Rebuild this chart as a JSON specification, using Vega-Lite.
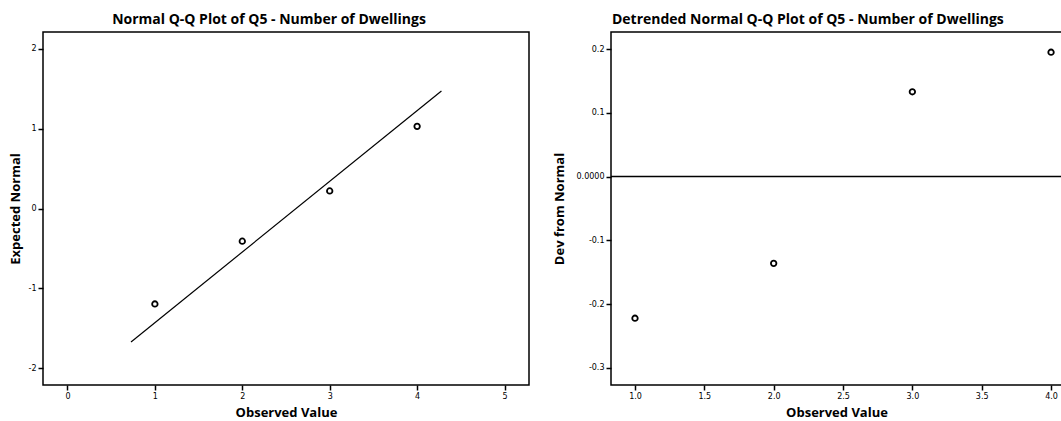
{
  "$schema": "https://vega.github.io/schema/vega-lite/v6.json",
  "background": "white",
  "padding": {"left": 8, "top": 12, "right": 0, "bottom": 0},
  "spacing": 22,
  "datasets": {
    "qq": [
      {"observed": 1, "expected": -1.197},
      {"observed": 2, "expected": -0.41},
      {"observed": 3, "expected": 0.22},
      {"observed": 4, "expected": 1.03}
    ],
    "fit": [
      {"observed": 0.727, "expected": -1.674},
      {"observed": 4.278, "expected": 1.473}
    ],
    "detrended": [
      {"observed": 1, "dev": -0.222},
      {"observed": 2, "dev": -0.136},
      {"observed": 3, "dev": 0.133},
      {"observed": 4, "dev": 0.195}
    ],
    "zero": [
      {"dev": 0}
    ]
  },
  "config": {
    "view": {"stroke": "black", "strokeWidth": 1.5},
    "axis": {
      "domain": false,
      "grid": false,
      "ticks": true,
      "tickColor": "black",
      "tickSize": 5,
      "tickWidth": 1.5,
      "labelFont": "DejaVu Sans",
      "labelFontSize": 8,
      "labelColor": "black",
      "labelPadding": 2,
      "titleFont": "Open Sans",
      "titleFontSize": 13,
      "titleFontWeight": "bold",
      "titleColor": "black"
    },
    "title": {
      "font": "Open Sans",
      "fontSize": 14,
      "fontWeight": "bold",
      "color": "black",
      "anchor": "middle",
      "frame": "bounds",
      "offset": 5
    }
  },
  "hconcat": [
    {
      "title": "Normal Q-Q Plot of Q5 - Number of Dwellings",
      "width": 486,
      "height": 353,
      "layer": [
        {
          "data": {"name": "fit"},
          "mark": {"type": "line", "color": "black", "strokeWidth": 1.2},
          "encoding": {
            "x": {"field": "observed", "type": "quantitative"},
            "y": {"field": "expected", "type": "quantitative"}
          }
        },
        {
          "data": {"name": "qq"},
          "mark": {"type": "point", "shape": "circle", "filled": false, "color": "black", "size": 30, "strokeWidth": 1.8, "opacity": 1},
          "encoding": {
            "x": {
              "field": "observed", "type": "quantitative",
              "scale": {"domain": [-0.28, 5.28], "nice": false, "zero": false},
              "axis": {"values": [0, 1, 2, 3, 4, 5], "labelExpr": "toString(datum.value)", "title": "Observed Value", "titlePadding": 6}
            },
            "y": {
              "field": "expected", "type": "quantitative",
              "scale": {"domain": [-2.213, 2.213], "nice": false, "zero": false},
              "axis": {"values": [-2, -1, 0, 1, 2], "labelExpr": "toString(datum.value)", "title": "Expected Normal", "titlePadding": 6}
            }
          }
        }
      ]
    },
    {
      "title": "Detrended Normal Q-Q Plot of Q5 - Number of Dwellings",
      "width": 451,
      "height": 353,
      "layer": [
        {
          "data": {"name": "zero"},
          "mark": {"type": "rule", "color": "black", "strokeWidth": 1.5},
          "encoding": {"y": {"field": "dev", "type": "quantitative"}}
        },
        {
          "data": {"name": "detrended"},
          "mark": {"type": "point", "shape": "circle", "filled": false, "color": "black", "size": 30, "strokeWidth": 1.8, "opacity": 1},
          "encoding": {
            "x": {
              "field": "observed", "type": "quantitative",
              "scale": {"domain": [0.827, 4.079], "nice": false, "zero": false},
              "axis": {"values": [1, 1.5, 2, 2.5, 3, 3.5, 4], "labelExpr": "replace(format(datum.value, '.1f'), '\u2212', '-')", "title": "Observed Value", "titlePadding": 6}
            },
            "y": {
              "field": "dev", "type": "quantitative",
              "scale": {"domain": [-0.3267, 0.2267], "nice": false, "zero": false},
              "axis": {
                "values": [-0.3, -0.2, -0.1, 0, 0.1, 0.2],
                "labelExpr": "datum.value == 0 ? '0.0000' : replace(format(datum.value, '.1f'), '\u2212', '-')",
                "title": "Dev from Normal",
                "titlePadding": 10
              }
            }
          }
        }
      ]
    }
  ]
}
